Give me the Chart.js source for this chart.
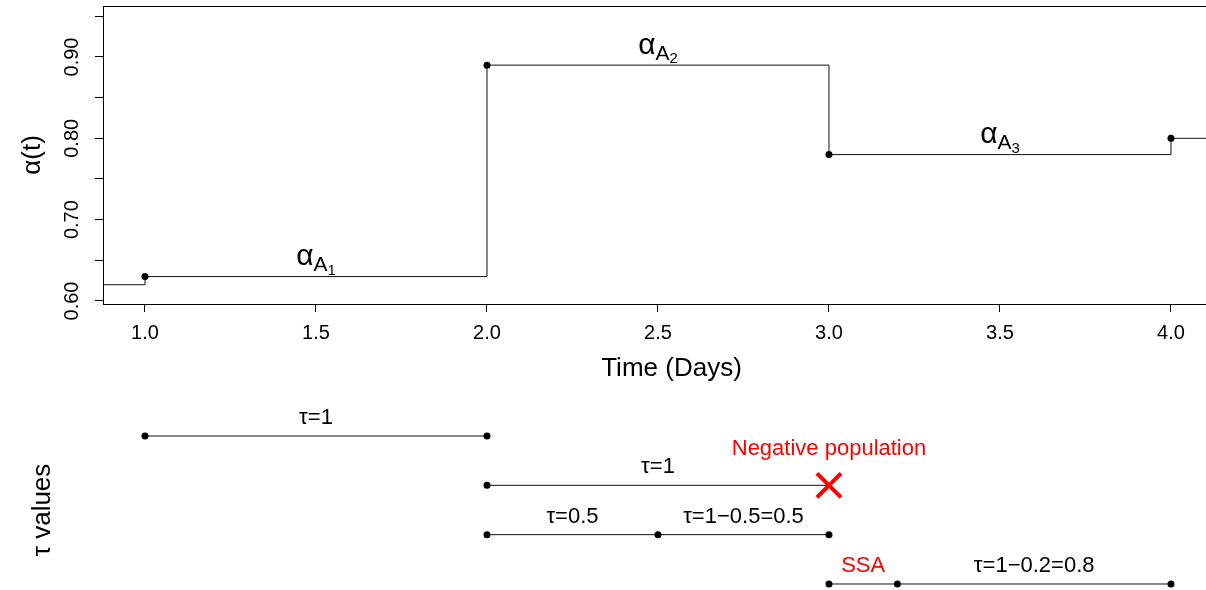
<!DOCTYPE html>
<html>
<head>
<meta charset="utf-8">
<script src="https://cdn.jsdelivr.net/npm/chart.js@4.4.1/dist/chart.umd.min.js"></script>
<style>
  html, body { margin: 0; padding: 0; background: #fff; }
  #wrap { position: relative; width: 1206px; height: 590px; overflow: hidden; background: #fff; }
  canvas { position: absolute; left: 0; }
  #alphaChart { top: 0; }
  #tauChart { top: 390px; }
</style>
</head>
<body>
<div id="wrap">
  <canvas id="alphaChart" width="1240" height="390"></canvas>
  <canvas id="tauChart" width="1240" height="200"></canvas>
</div>
<script>
const FONT = '"Liberation Sans", Arial, sans-serif';

// shared time axis (days)
const xMin = 0.8772, xMax = 4.2018;
const xTicks = [1.0, 1.5, 2.0, 2.5, 3.0, 3.5, 4.0];

// alpha(t) axis
const yMin = 0.5963, yMax = 0.9627;
const yTicks = [0.60, 0.65, 0.70, 0.75, 0.80, 0.85, 0.90, 0.95];
const yLabelled = [0.60, 0.70, 0.80, 0.90];

// alpha(t) step function
const alphaStart = 0.62;
const stepTimes = [1, 2, 3, 4];
const alphaValues = [0.63, 0.89, 0.78, 0.80];

// alpha_A labels over each step
const alphaLabelTimes = [1.5, 2.5, 3.5];
const alphaLabelValues = [0.63, 0.89, 0.78];
const alphaLabelSubs = ['1', '2', '3'];

// tau rows (1 = top row)
const tauRows = [1, 2, 3, 4];
const tauSegments = [[1, 2], [2, 3], [2, 2.5, 3], [3, 3.2, 4]];
const tauDots = [[1, 2], [2], [2, 2.5, 3], [3, 3.2, 4]];
const failTime = 3, failRow = 2;

const tauLabelText = ['τ=1', 'τ=1', 'τ=0.5', 'τ=1−0.5=0.5', 'τ=1−0.2=0.8'];
const tauLabelX = [1.5, 2.5, 2.25, 2.75, 3.6];
const tauLabelRow = [1, 2, 3, 3, 4];

const noteText = ['Negative population', 'SSA'];
const noteX = [3.0, 3.1];
const noteRow = [2, 4];

const alphaDecor = {
  id: 'alphaDecor',
  afterDatasetsDraw(chart) {
    const { ctx, chartArea: a, scales: { x, y } } = chart;
    ctx.save();
    // box round the plot
    ctx.strokeStyle = '#000';
    ctx.lineWidth = 1;
    ctx.strokeRect(Math.round(a.left) + 0.5, Math.round(a.top) + 0.5,
                   Math.round(a.right - a.left), Math.round(a.bottom - a.top));
    // alpha_A_i labels
    ctx.fillStyle = '#000';
    ctx.textBaseline = 'alphabetic';
    ctx.textAlign = 'left';
    alphaLabelTimes.forEach((t, i) => {
      const px = x.getPixelForValue(t);
      const py = y.getPixelForValue(alphaLabelValues[i]) - 11.5;
      const parts = [['α', 30, 0], ['A', 21, 6], [alphaLabelSubs[i], 15, 9.5]];
      let w = 0;
      parts.forEach(p => {
        ctx.font = p[1] + 'px ' + FONT;
        p.push(ctx.measureText(p[0]).width);
        w += p[3];
      });
      let cx = px - w / 2;
      parts.forEach(p => {
        ctx.font = p[1] + 'px ' + FONT;
        ctx.fillText(p[0], cx, py + p[2]);
        cx += p[3];
      });
    });
    ctx.restore();
  }
};

const tauDecor = {
  id: 'tauDecor',
  afterDatasetsDraw(chart) {
    const { ctx, scales: { x, y } } = chart;
    ctx.save();
    ctx.font = '22px ' + FONT;
    ctx.textAlign = 'center';
    ctx.textBaseline = 'alphabetic';
    ctx.fillStyle = '#000';
    tauLabelText.forEach((s, i) => {
      ctx.fillText(s, x.getPixelForValue(tauLabelX[i]), y.getPixelForValue(tauLabelRow[i]) - 12);
    });
    const noteOffset = [30, 12];
    ctx.fillStyle = '#ff0000';
    noteText.forEach((s, i) => {
      ctx.fillText(s, x.getPixelForValue(noteX[i]), y.getPixelForValue(noteRow[i]) - noteOffset[i]);
    });
    ctx.restore();
  }
};

// top panel: alpha(t)
new Chart(document.getElementById('alphaChart'), {
  type: 'line',
  data: {
    datasets: [
      {
        data: stepTimes.map((t, i) => ({ x: t, y: alphaValues[i] })),
        showLine: false,
        pointRadius: 3.5,
        pointBackgroundColor: '#000',
        pointBorderColor: '#000',
        pointBorderWidth: 0,
        clip: false
      },
      {
        data: [{ x: xMin, y: alphaStart }]
          .concat(stepTimes.map((t, i) => ({ x: t, y: alphaValues[i] })))
          .concat([{ x: xMax, y: alphaValues[alphaValues.length - 1] }]),
        stepped: true,
        borderColor: '#111',
        borderWidth: 1,
        pointRadius: 0
      }
    ]
  },
  options: {
    responsive: false,
    animation: false,
    events: [],
    layout: { autoPadding: false, padding: { top: 6, left: 0, right: 0, bottom: 0 } },
    plugins: { legend: { display: false }, tooltip: { enabled: false } },
    scales: {
      x: {
        type: 'linear',
        min: xMin,
        max: xMax,
        afterBuildTicks: s => { s.ticks = xTicks.map(v => ({ value: v })); },
        grid: { drawOnChartArea: false, tickLength: 8, color: '#000' },
        border: { display: false },
        ticks: {
          color: '#000', font: { family: FONT, size: 20 }, padding: 9,
          maxRotation: 0, autoSkip: false,
          callback: v => v.toFixed(1)
        },
        title: {
          display: true, text: 'Time (Days)', color: '#000',
          font: { family: FONT, size: 26 }, padding: { top: 0, bottom: 6 }
        },
        afterFit: s => { s.height = 86; s.paddingLeft = 0; s.paddingRight = 0; }
      },
      y: {
        min: yMin,
        max: yMax,
        afterBuildTicks: s => { s.ticks = yTicks.map(v => ({ value: v })); },
        grid: { drawOnChartArea: false, tickLength: 8, color: '#000' },
        border: { display: false },
        ticks: {
          color: '#000', font: { family: FONT, size: 20 }, padding: 3,
          minRotation: 90, maxRotation: 90, crossAlign: 'center', autoSkip: false,
          callback: v => yLabelled.some(l => Math.abs(l - v) < 1e-9) ? v.toFixed(2) : ''
        },
        title: {
          display: true, text: 'α(t)', color: '#000',
          font: { family: FONT, size: 26 }, padding: { top: 17, bottom: 0 }
        },
        afterFit: s => { s.width = 103; s.paddingTop = 0; s.paddingBottom = 0; }
      }
    }
  },
  plugins: [alphaDecor]
});

// bottom panel: tau values
new Chart(document.getElementById('tauChart'), {
  type: 'line',
  data: {
    datasets: [
      {
        data: [{ x: failTime, y: failRow }],
        showLine: false,
        pointStyle: 'crossRot',
        pointRadius: 17,
        pointBorderColor: '#ff0000',
        pointBorderWidth: 4,
        clip: false
      }
    ].concat(tauSegments.map((seg, i) => ({
      data: seg.map(t => ({ x: t, y: tauRows[i] })),
      borderColor: '#111',
      borderWidth: 1,
      pointRadius: seg.map(t => tauDots[i].includes(t) ? 3.5 : 0),
      pointBackgroundColor: '#000',
      pointBorderColor: '#000',
      pointBorderWidth: 0,
      clip: false
    })))
  },
  options: {
    responsive: false,
    animation: false,
    events: [],
    layout: { autoPadding: false, padding: { top: 40, left: 0, right: 0, bottom: 0 } },
    plugins: { legend: { display: false }, tooltip: { enabled: false } },
    scales: {
      x: { type: 'linear', min: xMin, max: xMax, display: false },
      y: {
        min: 0.8784,
        max: 4.1219,
        reverse: true,
        grid: { display: false },
        border: { display: false },
        ticks: { display: false },
        title: {
          display: true, text: 'τ values', color: '#000',
          font: { family: FONT, size: 26 }, padding: { top: 27, bottom: 0 }
        },
        afterFit: s => { s.width = 103; s.paddingTop = 0; s.paddingBottom = 0; }
      }
    }
  },
  plugins: [tauDecor]
});
</script>
</body>
</html>
